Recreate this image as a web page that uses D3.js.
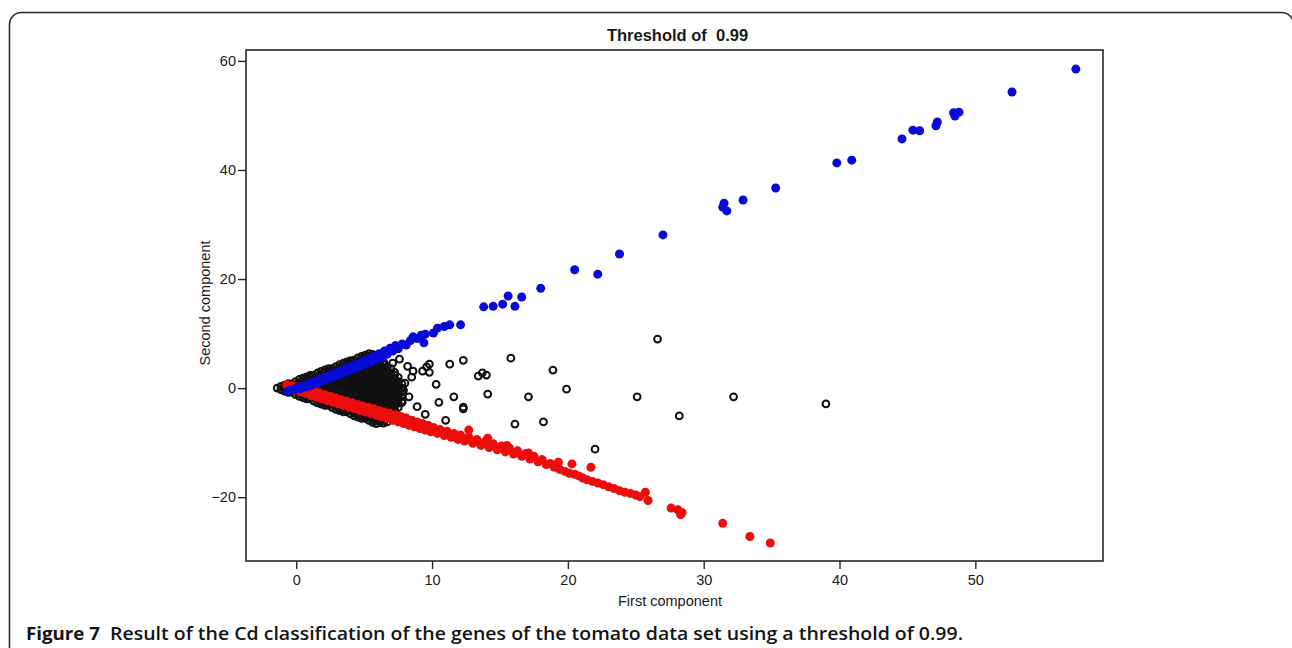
<!DOCTYPE html>
<html>
<head>
<meta charset="utf-8">
<script src="https://cdn.jsdelivr.net/npm/d3@7"></script>
<style>
  body { margin: 0; background: #fff; }
  svg { display: block; }
</style>
</head>
<body>
<svg id="chart" width="1292" height="648"></svg>
<script>
// ---- chart text ----
const titleText = "Threshold of  0.99";
const xTitle = "First component";
const yTitle = "Second component";
const captionLead = "Figure 7";
const captionBody = "Result of the Cd classification of the genes of the tomato data set using a threshold of 0.99.";

// ---- axes ----
const xTicks = [0, 10, 20, 30, 40, 50];
const yTicks = [-20, 0, 20, 40, 60];
const xDomain = [-3.7, 59.4];
const yDomain = [-31.7, 62];

// ---- unclassified genes: dense core near the origin, listed column by column [x, [y...]] ----
const coreColumns = [
  [-1.40, [0]],
  [-1.13, [0.3, -0.3]],
  [-0.86, [0.55, 0, -0.55]],
  [-0.59, [0.8, 0.4, -0.4, -0.78]],
  [-0.32, [0.79, 0, -0.79]],
  [-0.05, [1.19, 0.40, -0.40, -1.19]],
  [0.22, [1.58, 0.79, 0, -0.79, -1.52]],
  [0.49, [1.83, 1.19, 0.40, -0.40, -1.19, -1.75]],
  [0.76, [2.08, 1.58, 0.79, 0, -0.79, -1.58, -1.99]],
  [1.03, [2.33, 1.98, 1.19, 0.40, -0.40, -1.19, -1.98]],
  [1.30, [2.37, 1.58, 0.79, 0, -0.79, -1.58, -2.37]],
  [1.57, [2.77, 1.98, 1.19, 0.40, -0.40, -1.19, -1.98, -2.70]],
  [1.84, [3.07, 2.37, 1.58, 0.79, 0, -0.79, -1.58, -2.37, -2.94]],
  [2.11, [3.32, 2.77, 1.98, 1.19, 0.40, -0.40, -1.19, -1.98, -2.77, -3.18]],
  [2.38, [3.57, 3.16, 2.37, 1.58, 0.79, 0, -0.79, -1.58, -2.37, -3.16]],
  [2.65, [3.56, 2.77, 1.98, 1.19, 0.40, -0.40, -1.19, -1.98, -2.77, -3.56]],
  [2.92, [3.95, 3.16, 2.37, 1.58, 0.79, 0, -0.79, -1.58, -2.37, -3.16, -3.89]],
  [3.19, [4.31, 3.56, 2.77, 1.98, 1.19, 0.40, -0.40, -1.19, -1.98, -2.77, -3.56, -4.13]],
  [3.46, [4.56, 3.95, 3.16, 2.37, 1.58, 0.79, 0, -0.79, -1.58, -2.37, -3.16, -3.95, -4.36]],
  [3.73, [4.81, 4.35, 3.56, 2.77, 1.98, 1.19, 0.40, -0.40, -1.19, -1.98, -2.77, -3.56, -4.35]],
  [4.00, [5.06, 4.74, 3.95, 3.16, 2.37, 1.58, 0.79, 0, -0.79, -1.58, -2.37, -3.16, -3.95, -4.74]],
  [4.27, [5.14, 4.35, 3.56, 2.77, 1.98, 1.19, 0.40, -0.40, -1.19, -1.98, -2.77, -3.56, -4.35, -5.10]],
  [4.54, [5.53, 4.74, 3.95, 3.16, 2.37, 1.58, 0.79, 0, -0.79, -1.58, -2.37, -3.16, -3.95, -4.74, -5.32]],
  [4.81, [5.81, 5.14, 4.35, 3.56, 2.77, 1.98, 1.19, 0.40, -0.40, -1.19, -1.98, -2.77, -3.56, -4.35, -5.14, -5.55]],
  [5.08, [6.05, 5.53, 4.74, 3.95, 3.16, 2.37, 1.58, 0.79, 0, -0.79, -1.58, -2.37, -3.16, -3.95, -4.74, -5.53]],
  [5.35, [6.30, 5.93, 5.14, 4.35, 3.56, 2.77, 1.98, 1.19, 0.40, -0.40, -1.19, -1.98, -2.77, -3.56, -4.35, -5.14, -5.93]],
  [5.62, [6.20, 5.53, 4.74, 3.95, 3.16, 2.37, 1.58, 0.79, 0, -0.79, -1.58, -2.37, -3.16, -3.95, -4.74, -5.53, -6.27]],
  [5.89, [5.93, 5.14, 4.35, 3.56, 2.77, 1.98, 1.19, 0.40, -0.40, -1.19, -1.98, -2.77, -3.56, -4.35, -5.14, -5.93, -6.50]],
  [6.16, [5.53, 4.74, 3.95, 3.16, 2.37, 1.58, 0.79, 0, -0.79, -1.58, -2.37, -3.16, -3.95, -4.74, -5.53, -6.32]],
  [6.43, [4.80, 4.35, 3.56, 2.77, 1.98, 1.19, 0.40, -0.40, -1.19, -1.98, -2.77, -3.56, -4.35, -5.14, -5.93, -6.40]],
  [6.70, [3.95, 3.16, 2.37, 1.58, 0.79, 0, -0.79, -1.58, -2.37, -3.16, -3.95, -4.74, -5.53, -6.20]],
  [6.97, [3.56, 2.77, 1.98, 1.19, 0.40, -0.40, -1.19, -1.98, -2.77, -3.56, -4.35, -5.14]],
  [7.24, [2.90, 2.37, 1.58, 0.79, 0, -0.79, -1.58, -2.37, -3.16, -3.95, -4.74]],
  [7.51, [1.98, 1.19, 0.40, -0.40, -1.19, -1.98, -2.77, -3.56]],
  [7.78, [0.79, 0, -0.79, -1.58, -2.37]]
];

// ---- unclassified genes away from the core ----
const unclassifiedOuter = [
  [26.6, 9.0], [15.8, 5.5], [18.9, 3.3], [19.9, -0.2], [25.1, -1.6], [12.3, 5.1],
  [11.3, 4.4], [9.8, 4.4], [9.8, 2.9], [9.3, 3.1], [8.6, 3.1], [8.5, 2.0], [8.0, 0.9],
  [7.1, 4.6], [13.4, 2.2], [13.7, 2.8], [14.0, 2.4], [10.3, 0.7], [14.1, -1.1],
  [17.1, -1.6], [11.6, -1.6], [10.5, -2.6], [12.3, -3.5], [12.3, -3.8], [11.0, -5.9],
  [9.5, -4.8], [16.1, -6.6], [18.2, -6.2], [22.0, -11.2], [7.8, -2.6], [7.9, -0.4],
  [28.2, -5.1], [32.2, -1.6], [39.0, -2.9], [8.2, 4.0], [8.9, -3.4], [8.3, -1.6],
  [9.6, 3.9], [7.6, 5.3]
];

// ---- class 1 (positive second component) ----
const classUp = [
  [-0.6, -0.5], [-0.4, -0.3], [-0.1, -0.2], [0.1, 0.1], [0.3, -0.1], [0.5, 0.4], [0.7, 0.2],
  [0.9, 0.8], [1.1, 0.5], [1.3, 1.2], [1.5, 0.9], [1.7, 1.6], [1.9, 1.3], [2.1, 2.0],
  [2.3, 1.7], [2.5, 2.4], [2.7, 2.0], [2.9, 2.8], [3.1, 2.4], [3.3, 3.2], [3.5, 2.8],
  [3.7, 3.6], [3.9, 3.2], [4.1, 4.0], [4.3, 3.6], [4.5, 4.4], [4.7, 4.0], [4.9, 4.9],
  [5.1, 4.4], [5.3, 5.3], [5.5, 4.8], [5.7, 5.8], [5.9, 5.3], [6.1, 6.3], [6.3, 5.7],
  [6.5, 6.8], [6.7, 6.2], [6.9, 7.3], [7.1, 6.8], [7.3, 7.8], [7.5, 7.2], [7.8, 8.1],
  [8.1, 7.9], [8.4, 8.7], [8.6, 9.4], [8.9, 9.1], [9.2, 9.7], [9.4, 8.3], [9.5, 9.9],
  [10.1, 10.1], [10.4, 11.0], [10.9, 11.3], [11.3, 11.6], [12.1, 11.6],
  [13.8, 14.9], [14.5, 15.0], [15.2, 15.4], [15.6, 16.9], [16.1, 15.0], [16.6, 16.7],
  [18.0, 18.3], [20.5, 21.7], [22.2, 20.9], [23.8, 24.6], [27.0, 28.1], [31.4, 33.2],
  [31.5, 33.9], [31.7, 32.5], [32.9, 34.5], [35.3, 36.7], [39.8, 41.3], [40.9, 41.8],
  [44.6, 45.7], [45.4, 47.3], [45.9, 47.2], [47.1, 48.1], [47.2, 48.8], [48.4, 50.5],
  [48.5, 49.9], [48.8, 50.6], [52.7, 54.3], [57.4, 58.5]
];

// ---- class 2 (negative second component) ----
const classDown = [
  [-0.7, 0.6], [-0.5, 0.1], [-0.3, 0.4], [-0.1, -0.3], [0.1, 0.2], [0.3, -0.7],
  [0.5, -0.1], [0.7, -1.0], [0.9, -0.4], [1.1, -1.4], [1.3, -0.6], [1.5, -1.7],
  [1.7, -0.9], [1.9, -2.0], [2.1, -1.2], [2.3, -2.3], [2.5, -1.5], [2.7, -2.6],
  [2.9, -1.8], [3.1, -2.9], [3.3, -2.1], [3.5, -3.2], [3.7, -2.4], [3.9, -3.5],
  [4.1, -2.7], [4.3, -3.8], [4.5, -3.0], [4.7, -4.1], [4.9, -3.3], [5.1, -4.4],
  [5.3, -3.5], [5.5, -4.7], [5.7, -3.8], [5.9, -5.0], [6.1, -4.1], [6.3, -5.3],
  [6.5, -4.4], [6.7, -5.6], [6.9, -4.6], [7.1, -5.9], [7.3, -4.9], [7.5, -6.2],
  [7.7, -5.2], [7.9, -6.5], [8.1, -5.5], [8.3, -6.8], [8.5, -5.9], [8.7, -7.1],
  [8.9, -6.2], [9.1, -7.4], [9.3, -6.5], [9.5, -7.7], [9.7, -6.8], [9.9, -8.0],
  [10.1, -7.2], [10.4, -8.3], [10.6, -7.6], [10.9, -8.7], [11.1, -7.9], [11.4, -9.0],
  [11.6, -8.3], [11.9, -9.4], [12.1, -8.6], [12.4, -9.7], [12.7, -7.7], [12.7, -9.0],
  [13.0, -10.1], [13.3, -9.4], [13.6, -10.5], [13.9, -9.8], [14.1, -9.2], [14.2, -10.9],
  [14.5, -10.2], [14.8, -11.3], [15.1, -10.6], [15.4, -11.7], [15.5, -10.5], [15.7, -11.0],
  [16.0, -12.1], [16.3, -11.5], [16.6, -12.5], [16.9, -12.0], [17.1, -11.9], [17.2, -13.0],
  [17.5, -12.5], [17.8, -13.5], [18.1, -13.1], [18.4, -14.0], [18.7, -13.8], [19.0, -14.5],
  [19.3, -13.6], [19.4, -14.9], [19.8, -15.3], [20.1, -15.6], [20.3, -13.9], [20.5, -15.8],
  [20.8, -16.1], [21.1, -16.5], [21.4, -16.8], [21.7, -14.5], [21.8, -17.1], [22.2, -17.4],
  [22.6, -17.7], [23.0, -18.1], [23.4, -18.4], [23.8, -18.8], [24.2, -19.1], [24.6, -19.3],
  [25.0, -19.6], [25.3, -19.9], [25.7, -19.1], [25.9, -20.6], [27.6, -22.0], [28.1, -22.3],
  [28.4, -22.8], [28.3, -23.2], [31.4, -24.8], [33.4, -27.2], [34.9, -28.4]
];

// ---- drawing ----
const svg = d3.select("#chart");
const plot = { left: 246, right: 1103, top: 50, bottom: 561 };
const axisFont = "'Liberation Sans', Arial, sans-serif";
const ink = "#1a1a1a";

const x = d3.scaleLinear().domain(xDomain).range([plot.left, plot.right]);
const y = d3.scaleLinear().domain(yDomain).range([plot.bottom, plot.top]);

// figure panel border with rounded corners
svg.append("rect")
  .attr("x", 9.5).attr("y", 12.5)
  .attr("width", 1284).attr("height", 700)
  .attr("rx", 12).attr("ry", 12)
  .attr("fill", "none")
  .attr("stroke", "#2a2a2a")
  .attr("stroke-width", 1.6);

// title
svg.append("text")
  .attr("x", 677.5).attr("y", 41)
  .attr("text-anchor", "middle")
  .style("white-space", "pre")
  .attr("font-family", axisFont)
  .attr("font-weight", "bold")
  .attr("font-size", 16.5)
  .attr("fill", ink)
  .text(titleText);

// points
const pointLayer = svg.append("g");
const corePoints = coreColumns.flatMap(([cx, ys]) => ys.map(v => [cx, v]));
const unclassified = corePoints.concat(unclassifiedOuter);

pointLayer.selectAll("circle.unc").data(unclassified).join("circle")
  .attr("class", "unc")
  .attr("cx", d => x(d[0])).attr("cy", d => y(d[1]))
  .attr("r", 3.4)
  .attr("fill", "none")
  .attr("stroke", "#111")
  .attr("stroke-width", 2);

pointLayer.selectAll("circle.down").data(classDown).join("circle")
  .attr("class", "down")
  .attr("cx", d => x(d[0])).attr("cy", d => y(d[1]))
  .attr("r", 4.5)
  .attr("fill", "#ec0d0d");

pointLayer.selectAll("circle.up").data(classUp).join("circle")
  .attr("class", "up")
  .attr("cx", d => x(d[0])).attr("cy", d => y(d[1]))
  .attr("r", 4.5)
  .attr("fill", "#0a0ad8");

// plot frame
svg.append("rect")
  .attr("x", plot.left).attr("y", plot.top)
  .attr("width", plot.right - plot.left).attr("height", plot.bottom - plot.top)
  .attr("fill", "none")
  .attr("stroke", "#262626")
  .attr("stroke-width", 1.6);

// x axis
const gx = svg.append("g")
  .attr("transform", `translate(0,${plot.bottom})`)
  .call(d3.axisBottom(x).tickValues(xTicks).tickSize(8).tickPadding(6).tickFormat(d3.format("d")));
gx.select(".domain").remove();

// y axis
const gy = svg.append("g")
  .attr("transform", `translate(${plot.left},0)`)
  .call(d3.axisLeft(y).tickValues(yTicks).tickSize(8).tickPadding(2)
    .tickFormat(d => d < 0 ? "\u2212" + Math.abs(d) : String(d)));
gy.select(".domain").remove();

[gx, gy].forEach(g => {
  g.selectAll(".tick line").attr("stroke", "#262626").attr("stroke-width", 1.4);
  g.selectAll(".tick text")
    .attr("font-family", axisFont)
    .attr("font-size", 14.5)
    .attr("fill", ink);
});

// axis titles
svg.append("text")
  .attr("x", 670).attr("y", 606)
  .attr("text-anchor", "middle")
  .attr("font-family", axisFont)
  .attr("font-size", 14.5)
  .attr("fill", ink)
  .text(xTitle);

svg.append("text")
  .attr("transform", "translate(210,303) rotate(-90)")
  .attr("text-anchor", "middle")
  .attr("font-family", axisFont)
  .attr("font-size", 14.5)
  .attr("fill", ink)
  .text(yTitle);

// caption
const captionFont = "'Open Sans', 'Noto Sans', sans-serif";
svg.append("text")
  .attr("x", 26).attr("y", 640)
  .attr("font-family", captionFont)
  .attr("font-weight", 700)
  .attr("font-size", 18.5)
  .attr("fill", "#141414")
  .attr("textLength", 74)
  .attr("lengthAdjust", "spacingAndGlyphs")
  .text(captionLead);

svg.append("text")
  .attr("x", 110).attr("y", 640)
  .attr("font-family", captionFont)
  .attr("font-weight", 600)
  .attr("font-size", 18.5)
  .attr("fill", "#141414")
  .attr("textLength", 853)
  .attr("lengthAdjust", "spacingAndGlyphs")
  .text(captionBody);
</script>
</body>
</html>
